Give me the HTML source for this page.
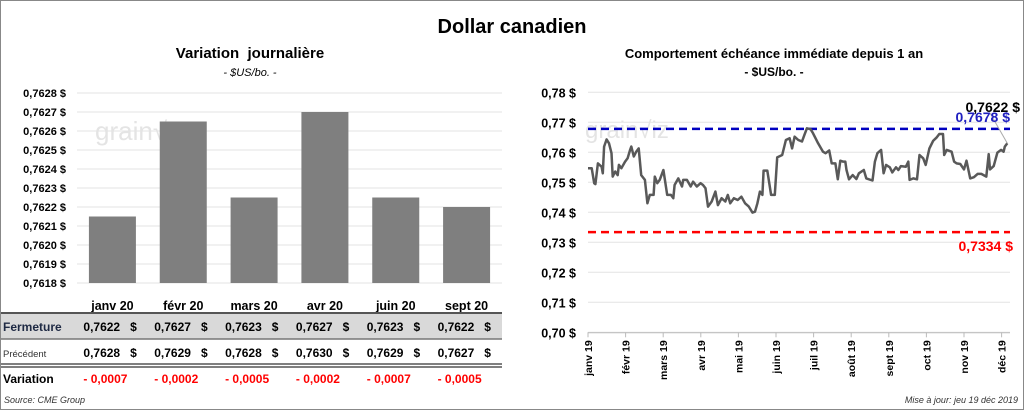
<!DOCTYPE html>
<html><head><meta charset="utf-8"><style>
html,body{margin:0;padding:0;background:#fff;}
svg{display:block;font-family:"Liberation Sans",sans-serif;}
text{white-space:pre;}
</style></head><body>
<svg id="chart" width="1024" height="410" viewBox="0 0 1024 410">
<rect x="0.5" y="0.5" width="1023" height="409" fill="#fff" stroke="#888"/>
<text x="512" y="33" text-anchor="middle" font-size="20" font-weight="bold" fill="#000">Dollar canadien</text>
<text x="250" y="58" text-anchor="middle" font-size="15" font-weight="bold">Variation  journalière</text>
<text x="250" y="76" text-anchor="middle" font-size="11" font-style="italic">- $US/bo. -</text>
<text x="774" y="58" text-anchor="middle" font-size="13" font-weight="bold">Comportement échéance immédiate depuis 1 an</text>
<text x="774" y="76" text-anchor="middle" font-size="12" font-weight="bold">- $US/bo. -</text>
<text x="95" y="140" font-size="26" fill="#e4e4e4">grain√</text>
<text x="585" y="138" font-size="24" fill="#e4e4e4">grain√iz</text>
<g id="left"></g>
<g id="table"></g>
<g id="right"></g>
<text x="4" y="403" font-size="9" font-style="italic" fill="#333">Source: CME Group</text>
<text x="1018" y="403" text-anchor="end" font-size="9" font-style="italic" fill="#333">Mise à jour: jeu 19 déc 2019</text>
</svg>
<script>
const barCats = ["janv 20","févr 20","mars 20","avr 20","juin 20","sept 20"];
const barVals = [0.76215,0.76265,0.76225,0.7627,0.76225,0.7622];
const yTicksL = [0.7618,0.7619,0.7620,0.7621,0.7622,0.7623,0.7624,0.7625,0.7626,0.7627,0.7628];
const closeTxt = ["0,7622","0,7627","0,7623","0,7627","0,7623","0,7622"];
const prevTxt = ["0,7628","0,7629","0,7628","0,7630","0,7629","0,7627"];
const varTxt = ["- 0,0007","- 0,0002","- 0,0005","- 0,0002","- 0,0007","- 0,0005"];

const lineDays = [0,3,5,6,8,11,12,13,15,17,19,20,22,24,25,27,30,32,34,35,37,39,41,43,46,48,50,53,54,56,58,61,64,67,69,70,73,76,77,80,83,85,88,91,93,95,97,100,103,105,108,111,113,115,118,121,124,127,130,133,135,137,139,141,142,145,148,151,153,157,160,163,165,167,170,173,175,177,180,182,186,190,192,195,197,200,202,204,206,208,209,211,214,217,219,223,225,230,232,234,237,239,241,244,246,249,251,253,257,259,260,263,266,268,271,273,276,279,282,284,287,288,290,294,296,298,301,304,306,309,312,315,318,322,324,325,328,331,334,336,337,339];
const lineVals = [0.7547,0.7547,0.7497,0.7494,0.7563,0.7552,0.7530,0.7619,0.7643,0.7630,0.7597,0.7519,0.7536,0.7524,0.7558,0.7547,0.7569,0.7580,0.7608,0.7619,0.7586,0.7602,0.7613,0.7524,0.7508,0.7430,0.7458,0.7458,0.7519,0.7497,0.7508,0.7541,0.7458,0.7458,0.7447,0.7491,0.7513,0.7486,0.7508,0.7508,0.7486,0.7502,0.7486,0.7497,0.7491,0.7480,0.7419,0.7436,0.7469,0.7424,0.7447,0.7436,0.7458,0.7430,0.7447,0.7441,0.7452,0.7430,0.7419,0.7399,0.7402,0.7430,0.7469,0.7458,0.7539,0.7539,0.7458,0.7458,0.7583,0.7591,0.7641,0.7647,0.7613,0.7652,0.7641,0.7636,0.7658,0.7680,0.7677,0.7663,0.7630,0.7602,0.7597,0.7606,0.7563,0.7563,0.7510,0.7572,0.7569,0.7569,0.7541,0.7510,0.7524,0.7511,0.7530,0.7541,0.7513,0.7506,0.7569,0.7597,0.7608,0.7530,0.7558,0.7550,0.7533,0.7550,0.7541,0.7554,0.7552,0.7569,0.7508,0.7513,0.7510,0.7591,0.7580,0.7558,0.7613,0.7638,0.7650,0.7661,0.7661,0.7591,0.7608,0.7602,0.7569,0.7563,0.7561,0.7543,0.7572,0.7513,0.7517,0.7528,0.7528,0.7519,0.7594,0.7543,0.7554,0.7599,0.7608,0.7602,0.7619,0.7630];
const monthLabels = ["janv 19","févr 19","mars 19","avr 19","mai 19","juin 19","juil 19","août 19","sept 19","oct 19","nov 19","déc 19"];
const yTicksR = [0.70,0.71,0.72,0.73,0.74,0.75,0.76,0.77,0.78];
const highVal = 0.7678, lowVal = 0.7334, lastVal = 0.7622;

const NS="http://www.w3.org/2000/svg";
function mk(tag,attrs,parent,text){const e=document.createElementNS(NS,tag);for(const k in attrs)e.setAttribute(k,attrs[k]);if(text!==undefined)e.textContent=text;parent.appendChild(e);return e;}
const fmt=(v,d)=>v.toFixed(d).replace('.',',');

const L=document.getElementById('left');
const lx0=77,lx1=502,ly0=283,ly1=93,lmin=0.7618,lmax=0.7628;
const ly=v=>ly0+(v-lmin)/(lmax-lmin)*(ly1-ly0);
const bw=(lx1-lx0)/barCats.length;
const lxc=i=>lx0+bw*(i+0.5);
yTicksL.forEach(t=>{
 const g=mk('line',{x1:lx0,x2:lx1,y1:ly(t),y2:ly(t),stroke:'#e3e3e3','stroke-width':1},L);
 
 
 const tx=mk('text',{x:66,y:ly(t)+4,'text-anchor':'end','font-size':11,'font-weight':'bold'},L,fmt(t,4)+' $');
 
 
});
barVals.forEach((v,i)=>{
 const r=mk('rect',{x:lxc(i)-23.5,y:ly(v),width:47,height:ly0-ly(v),fill:'#7f7f7f'},L);
 
 
 const t=mk('text',{x:lxc(i),y:310,'text-anchor':'middle','font-size':12.5,'font-weight':'bold'},L,barCats[i]);
 
 
});

const T=document.getElementById('table');
const bg=mk('rect',{x:1,y:314,width:501,height:25,fill:'#d9d9d9'},T);


[[313,2,'#555'],[339,1.5,'#777'],[364,1.5,'#555'],[367,1.5,'#555']].forEach(([y,w,c])=>{
 const l=mk('line',{x1:1,x2:502,y1:y,y2:y,stroke:c,'stroke-width':w},T);
 
 
});
const rh1=mk('text',{x:3,y:331,'font-size':12,'font-weight':'bold',fill:'#1f2a44'},T,'Fermeture');

const rh2=mk('text',{x:3,y:357,'font-size':9.5,fill:'#333'},T,'Précédent');

const rh3=mk('text',{x:3,y:383,'font-size':12,'font-weight':'bold'},T,'Variation');

barCats.forEach((c,i)=>{
 const x=lxc(i);
 const a=mk('text',{x:x-29,y:331,'font-size':12,'font-weight':'bold'},T,closeTxt[i]+'\u00a0\u00a0\u00a0$');
 
 const b=mk('text',{x:x-29,y:357,'font-size':12,'font-weight':'bold'},T,prevTxt[i]+'\u00a0\u00a0\u00a0$');
 
 const d=mk('text',{x:x-29,y:383,'font-size':12,'font-weight':'bold',fill:'#ff0000'},T,varTxt[i]);
 
});

const R=document.getElementById('right');
const rx0=588,monthW=37.6,ry0=332.3,ry1=92.3,rmin=0.70,rmax=0.78;
const ry=v=>ry0+(v-rmin)/(rmax-rmin)*(ry1-ry0);
const rxDay=d=>rx0+d/30.4*monthW;
yTicksR.forEach(t=>{
 const g=mk('line',{x1:rx0,x2:1010,y1:ry(t),y2:ry(t),stroke:'#e3e3e3','stroke-width':1},R);
 
 
 const tx=mk('text',{x:576,y:ry(t)+5,'text-anchor':'end','font-size':12.5,'font-weight':'bold'},R,fmt(t,2)+' $');
 
 
});
const ax=mk('line',{x1:rx0,x2:1010,y1:ry0+0.5,y2:ry0+0.5,stroke:'#bbb'},R);

monthLabels.forEach((m,i)=>{
 const x=rx0+i*monthW;
 const tk=mk('line',{x1:x,x2:x,y1:ry0,y2:ry0+5,stroke:'#bbb'},R);
 
 const t=mk('text',{x:0,y:0,'text-anchor':'end','font-size':10.5,'font-weight':'bold',transform:`translate(${x+4},${ry0+8}) rotate(-90)`},R,m);
 
 
});
const hl=mk('line',{x1:rx0,x2:1010,y1:ry(highVal),y2:ry(highVal),stroke:'#0000c0','stroke-width':2.5,'stroke-dasharray':'8,5'},R);

const ll=mk('line',{x1:rx0,x2:1010,y1:ry(lowVal),y2:ry(lowVal),stroke:'#ff0000','stroke-width':2.5,'stroke-dasharray':'8,5'},R);

const pts=lineDays.map((d,i)=>rxDay(d).toFixed(1)+','+ry(lineVals[i]).toFixed(1)).join(' ');
const pl=mk('polyline',{points:pts,fill:'none',stroke:'#595959','stroke-width':2.5,'stroke-linejoin':'round'},R);

const lastX=rxDay(lineDays[lineDays.length-1]), lastY=ry(lineVals[lineVals.length-1]);
const ld=mk('line',{x1:990,y1:113,x2:lastX,y2:lastY,stroke:'#aaa','stroke-width':1},R);

const lt=mk('text',{x:1020,y:112,'text-anchor':'end','font-size':14,'font-weight':'bold'},R,fmt(lastVal,4)+' $');

const ht=mk('text',{x:1010,y:122,'text-anchor':'end','font-size':14,'font-weight':'bold',fill:'#2020c0'},R,fmt(highVal,4)+' $');

const lwt=mk('text',{x:1013,y:251,'text-anchor':'end','font-size':14,'font-weight':'bold',fill:'#ff0000'},R,fmt(lowVal,4)+' $');

</script>
</body></html>
